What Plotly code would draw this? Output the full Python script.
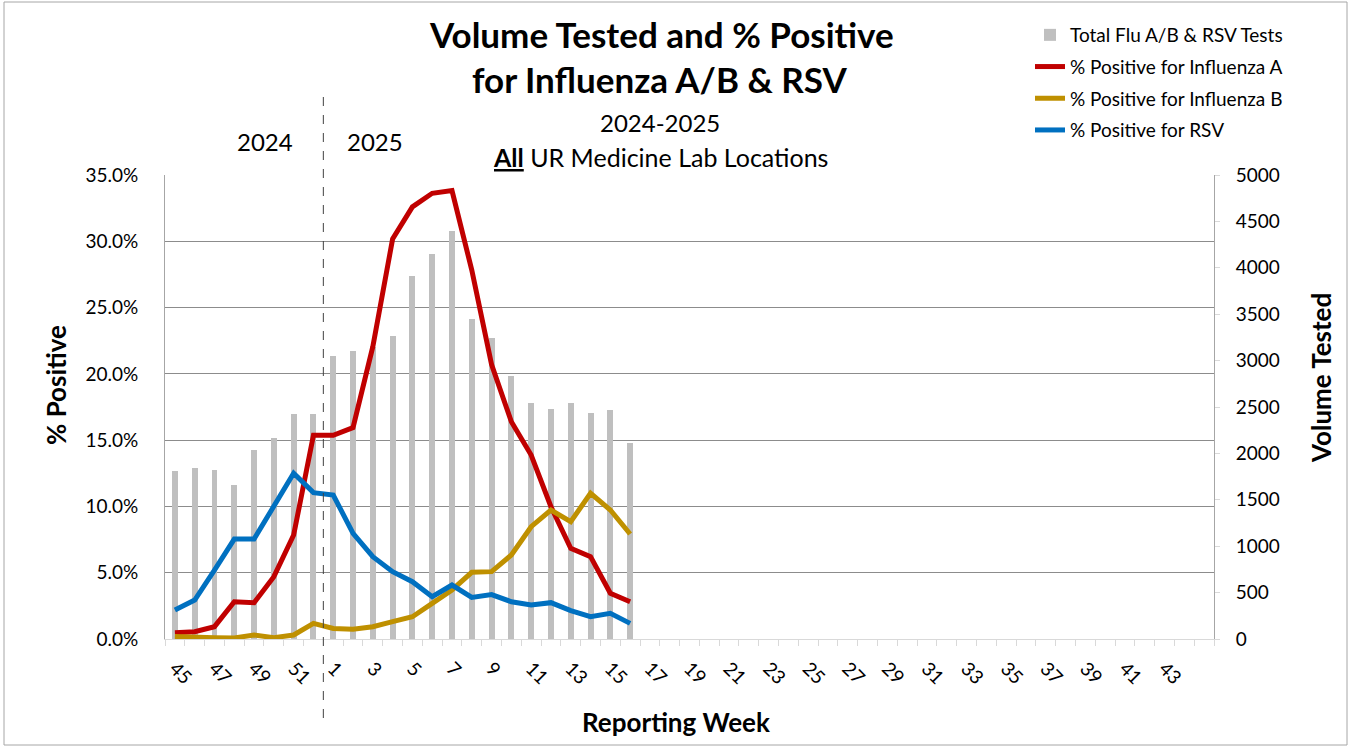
import plotly.graph_objects as go

# Category labels (reporting weeks): 2024 weeks 45-52, 2025 weeks 1-44, plus a trailing blank slot
weeks = [str(w) for w in range(45, 53)] + [str(w) for w in range(1, 45)] + [""]

total_tests = [1807, 1846, 1821, 1659, 2033, 2169, 2428, 2421, 3053, 3100, 3150, 3265,
               3908, 4145, 4397, 3452, 3247, 2834, 2546, 2482, 2540, 2432, 2471, 2112]
pct_flu_a = [0.48, 0.55, 0.93, 2.81, 2.74, 4.7, 7.84, 15.36, 15.36, 15.94, 22.05, 30.17,
             32.6, 33.62, 33.82, 27.83, 20.7, 16.39, 13.88, 9.98, 6.84, 6.21, 3.45, 2.81]
pct_flu_b = [0.18, 0.1, 0.1, 0.08, 0.3, 0.1, 0.3, 1.18, 0.8, 0.73, 0.93, 1.31,
             1.68, 2.69, 3.7, 5.03, 5.08, 6.34, 8.47, 9.73, 8.85, 10.99, 9.73, 7.92]
pct_rsv = [2.19, 2.94, 5.2, 7.54, 7.54, 9.98, 12.5, 11.04, 10.86, 7.97, 6.21, 5.08,
           4.32, 3.19, 4.07, 3.14, 3.35, 2.81, 2.56, 2.74, 2.14, 1.68, 1.94, 1.18]

pct_ticks = [0, 5, 10, 15, 20, 25, 30, 35]
pct_tick_labels = ["0.0%", "5.0%", "10.0%", "15.0%", "20.0%", "25.0%", "30.0%", "35.0%"]
vol_ticks = [0, 500, 1000, 1500, 2000, 2500, 3000, 3500, 4000, 4500, 5000]

FONT = "Lato"
idx_all = list(range(len(weeks)))
idx_data = idx_all[:len(total_tests)]

fig = go.Figure()
fig.add_trace(go.Bar(x=idx_data, y=total_tests, name="Total Flu A/B & RSV Tests",
                     marker=dict(color="#bfbfbf", line=dict(width=0)), width=0.3,
                     yaxis="y", legendgroup="a"))
fig.add_trace(go.Scatter(x=idx_data, y=pct_flu_a, name="% Positive for Influenza A",
                         mode="lines", line=dict(color="#c00000", width=5), yaxis="y2",
                         legendgroup="b"))
fig.add_trace(go.Scatter(x=idx_data, y=pct_flu_b, name="% Positive for Influenza B",
                         mode="lines", line=dict(color="#bf9000", width=5), yaxis="y2",
                         legendgroup="c"))
fig.add_trace(go.Scatter(x=idx_data, y=pct_rsv, name="% Positive for RSV",
                         mode="lines", line=dict(color="#0070c0", width=5), yaxis="y2",
                         legendgroup="d"))

tickvals = idx_all[0:52:2]
ticktext = [weeks[i] for i in tickvals]

L, R, T, B = 165, 141, 175, 109
W, H = 1355, 748
pw = W - L - R
ph = H - T - B


def py(ypix):
    return 1 - (ypix - T) / ph


def px(xpix):
    return (xpix - L) / pw


fig.update_layout(
    width=W, height=H,
    margin=dict(l=L, r=R, t=T, b=B),
    paper_bgcolor="white", plot_bgcolor="white",
    font=dict(family=FONT, color="black", size=18),
    bargap=0,
    xaxis=dict(range=[-0.5, len(weeks) - 0.5], tickmode="array", tickvals=tickvals,
               ticktext=ticktext, tickangle=45, ticks="", showgrid=False, zeroline=False,
               showline=True, linecolor="#d9d9d9", linewidth=1,
               tickfont=dict(size=19, family=FONT), ticklabelstandoff=10,
               minor=dict(tickmode="linear", tick0=-0.5, dtick=1, ticks="outside",
                          ticklen=6, tickcolor="#d9d9d9", showgrid=False)),
    yaxis=dict(side="right", range=[0, 5000], tickmode="array", tickvals=vol_ticks,
               showgrid=False, zeroline=False, showline=True, linecolor="#a6a6a6",
               ticks="outside", ticklen=5, tickcolor="#d9d9d9", ticklabelstandoff=12,
               tickfont=dict(size=19, family=FONT)),
    yaxis2=dict(side="left", overlaying="y", range=[0, 35], tickmode="array",
                tickvals=pct_ticks, ticktext=pct_tick_labels,
                showgrid=True, gridcolor="#8c8c8c", gridwidth=1, zeroline=False,
                showline=True, linecolor="#a6a6a6", ticks="", ticklabelstandoff=22,
                tickfont=dict(size=19, family=FONT)),
    legend=dict(x=px(1030), y=1 + (T - 16) / ph, xref="paper", yref="paper",
                xanchor="left", yanchor="top", font=dict(size=19, family=FONT),
                traceorder="grouped", tracegroupgap=4, itemwidth=30,
                bgcolor="rgba(0,0,0,0)"),
    showlegend=True,
)

annots = [
    dict(text="<b>Volume Tested and % Positive</b>", x=px(661), y=py(34), size=35, angle=0),
    dict(text="<b>for Influenza A/B & RSV</b>", x=px(660), y=py(79), size=35, angle=0),
    dict(text="2024-2025", x=px(660), y=py(122), size=24, angle=0),
    dict(text="<b><u>All</u></b> UR Medicine Lab Locations", x=px(660), y=py(157), size=25, angle=0),
    dict(text="2024", x=px(265), y=py(141), size=24, angle=0),
    dict(text="2025", x=px(375), y=py(141), size=24, angle=0),
    dict(text="<b>% Positive</b>", x=px(56), y=py(385), size=26, angle=-90),
    dict(text="<b>Volume Tested</b>", x=px(1321), y=py(378), size=26, angle=-90),
    dict(text="<b>Reporting Week</b>", x=px(676), y=py(722), size=26, angle=0),
]
for a in annots:
    fig.add_annotation(text=a["text"], x=a["x"], y=a["y"], xref="paper", yref="paper",
                       showarrow=False, xanchor="center", yanchor="middle",
                       textangle=a["angle"],
                       font=dict(size=a["size"], family=FONT, color="black"))

# divider between 2024 and 2025
fig.add_shape(type="line", xref="x", yref="paper", x0=7.5, x1=7.5,
              y0=py(718), y1=py(88), line=dict(color="#404040", width=1, dash="dash"))
# chart border
fig.add_shape(type="rect", xref="paper", yref="paper", x0=px(4), x1=px(1347),
              y0=py(745), y1=py(2), line=dict(color="#a6a6a6", width=1))

fig.write_html("out.html", config={"displayModeBar": False},
               post_script="document.body.style.margin='0px';")
